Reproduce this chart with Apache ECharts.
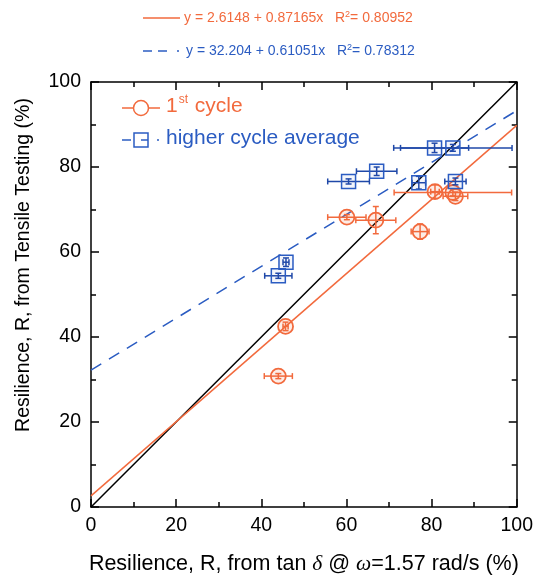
<!DOCTYPE html>
<html>
<head>
<meta charset="utf-8">
<script src="https://cdn.jsdelivr.net/npm/echarts@6/dist/echarts.min.js"></script>
<style>
  html, body { margin: 0; padding: 0; background: #fff; }
  #main { width: 536px; height: 580px; }
</style>
</head>
<body>
<div id="main"></div>
<script>
// 1st cycle: x, y, x error, y error
var cycle1X    = [44.0, 45.7, 60.1, 66.9, 77.3, 80.8, 85.0, 85.6];
var cycle1Y    = [30.8, 42.5, 68.2, 67.5, 64.8, 74.2, 74.0, 73.1];
var cycle1Xerr = [3.3, 0.6, 4.5, 4.7, 2.1, 1.0, 13.8, 2.9];
var cycle1Yerr = [0.6, 1.0, 0.6, 3.2, 1.8, 1.6, 0.8, 1.0];

// higher cycle average
var higherX    = [44.0, 45.8, 60.5, 67.1, 77.0, 85.6, 80.7, 85.0];
var higherY    = [54.4, 57.6, 76.6, 79.0, 76.3, 76.6, 84.5, 84.5];
var higherXerr = [3.2, 0.7, 4.9, 4.75, 1.6, 2.5, 8.0, 13.9];
var higherYerr = [0.6, 1.0, 0.6, 1.0, 1.5, 0.8, 1.1, 0.8];

// fit lines and y = x reference
var fitX      = [0, 100];
var fitOrange = [2.61, 89.78];
var fitBlue   = [32.20, 93.26];
var refY      = [0, 100];

var ORANGE = '#f26a3d';
var BLUE = '#2b5cc2';
var BLUE_DARK = '#1f48a8';

function pack(xs, ys, xe, ye) {
    return xs.map(function (x, i) { return [x, ys[i], xe[i], ye[i]]; });
}
function pairs(xs, ys) {
    return xs.map(function (x, i) { return [x, ys[i]]; });
}

function errItem(kind, color, barColor) {
    return function (params, api) {
        var x = api.value(0), y = api.value(1), xe = api.value(2), ye = api.value(3);
        var c = api.coord([x, y]);
        var l = api.coord([x - xe, y]), r = api.coord([x + xe, y]);
        var t = api.coord([x, y + ye]), b = api.coord([x, y - ye]);
        var cap = 3;
        var st = { stroke: barColor, lineWidth: 1.5 };
        var kids = [
            { type: 'line', shape: { x1: l[0], y1: c[1], x2: r[0], y2: c[1] }, style: st },
            { type: 'line', shape: { x1: l[0], y1: c[1] - cap, x2: l[0], y2: c[1] + cap }, style: st },
            { type: 'line', shape: { x1: r[0], y1: c[1] - cap, x2: r[0], y2: c[1] + cap }, style: st },
            { type: 'line', shape: { x1: c[0], y1: t[1], x2: c[0], y2: b[1] }, style: st },
            { type: 'line', shape: { x1: c[0] - cap, y1: t[1], x2: c[0] + cap, y2: t[1] }, style: st },
            { type: 'line', shape: { x1: c[0] - cap, y1: b[1], x2: c[0] + cap, y2: b[1] }, style: st }
        ];
        if (kind === 'circle') {
            kids.push({ type: 'circle', shape: { cx: c[0], cy: c[1], r: 7.5 },
                style: { fill: 'rgba(242,106,61,0.12)', stroke: color, lineWidth: 1.8 } });
        } else {
            kids.push({ type: 'rect', shape: { x: c[0] - 7, y: c[1] - 7, width: 14, height: 14 },
                style: { fill: 'rgba(43,92,194,0.06)', stroke: color, lineWidth: 1.5 } });
        }
        return { type: 'group', children: kids };
    };
}

var myChart = echarts.init(document.getElementById('main'));

var axisCommon = {
    type: 'value',
    min: 0,
    max: 100,
    interval: 20,
    axisLine: { show: true, onZero: false, lineStyle: { color: '#000', width: 1.5 } },
    axisTick: { show: true, inside: true, length: 8, lineStyle: { color: '#000', width: 1.5 } },
    minorTick: { show: true, splitNumber: 2, length: 5, lineStyle: { color: '#000', width: 1.5 } },
    splitLine: { show: false }
};

var option = {
    backgroundColor: '#fff',
    animation: false,
    grid: { left: 91, right: 18, top: 82, bottom: 70 },
    xAxis: [
        Object.assign({}, axisCommon, {
            position: 'bottom',
            axisLabel: { color: '#000', fontSize: 19.5, fontFamily: 'Liberation Sans', margin: 9 },
            name: 'Resilience, R, from tan {i|δ} @ {i|ω}=1.57 rad/s (%)',
            nameLocation: 'middle',
            nameGap: 46,
            nameTextStyle: {
                color: '#000', fontSize: 21.5, fontFamily: 'Liberation Sans',
                rich: { i: { fontStyle: 'italic', fontSize: 21.5, fontFamily: 'Liberation Serif', color: '#000' } }
            }
        }),
        Object.assign({}, axisCommon, { position: 'top', axisLabel: { show: false } })
    ],
    yAxis: [
        Object.assign({}, axisCommon, {
            position: 'left',
            axisLabel: { color: '#000', fontSize: 19.5, fontFamily: 'Liberation Sans', margin: 10 }
        }),
        Object.assign({}, axisCommon, { position: 'right', axisLabel: { show: false } })
    ],
    graphic: [
        // y axis title
        { type: 'text', x: 24, y: 265, rotation: Math.PI / 2, style: {
            text: 'Resilience, R, from Tensile Testing (%)',
            fill: '#000', font: '19.5px "Liberation Sans"', align: 'center', verticalAlign: 'middle'
        } },
        // top fit legend
        { type: 'line', shape: { x1: 143, y1: 18, x2: 180, y2: 18 }, style: { stroke: ORANGE, lineWidth: 1.5 } },
        { type: 'text', left: 184, top: 10, style: {
            text: 'y = 2.6148 + 0.87165x   R{s|2}= 0.80952',
            fill: ORANGE, font: '14px "Liberation Sans"',
            rich: { s: { fontSize: 9, verticalAlign: 'top', fill: ORANGE, padding: [0, 0, 8, 0] } }
        } },
        { type: 'line', shape: { x1: 143, y1: 51, x2: 152, y2: 51 }, style: { stroke: BLUE, lineWidth: 1.5 } },
        { type: 'line', shape: { x1: 158, y1: 51, x2: 167, y2: 51 }, style: { stroke: BLUE, lineWidth: 1.5 } },
        { type: 'line', shape: { x1: 177, y1: 51, x2: 179, y2: 51 }, style: { stroke: BLUE, lineWidth: 1.5 } },
        { type: 'text', left: 186, top: 43, style: {
            text: 'y = 32.204 + 0.61051x   R{s|2}= 0.78312',
            fill: BLUE, font: '14px "Liberation Sans"',
            rich: { s: { fontSize: 9, verticalAlign: 'top', fill: BLUE, padding: [0, 0, 8, 0] } }
        } },
        // in-plot legend
        { type: 'line', shape: { x1: 122, y1: 108, x2: 160, y2: 108 }, style: { stroke: ORANGE, lineWidth: 1.5 } },
        { type: 'circle', shape: { cx: 141, cy: 108, r: 7.5 }, style: { fill: '#fff', stroke: ORANGE, lineWidth: 1.5 } },
        { type: 'text', left: 166, top: 94, style: {
            text: '1{s|st} cycle', fill: ORANGE, font: '21px "Liberation Sans"',
            rich: { s: { fontSize: 12, fill: ORANGE, verticalAlign: 'top', padding: [0, 1, 12, 1] } }
        } },
        { type: 'line', shape: { x1: 122, y1: 140, x2: 131, y2: 140 }, style: { stroke: BLUE, lineWidth: 1.5 } },
        { type: 'rect', shape: { x: 134, y: 133, width: 14, height: 14 }, style: { fill: '#fff', stroke: BLUE, lineWidth: 1.5 } },
        { type: 'line', shape: { x1: 141, y1: 140, x2: 148, y2: 140 }, style: { stroke: BLUE, lineWidth: 1.5 } },
        { type: 'line', shape: { x1: 157, y1: 140, x2: 159, y2: 140 }, style: { stroke: BLUE, lineWidth: 1.5 } },
        { type: 'text', left: 166, top: 128, style: {
            text: 'higher cycle average', fill: BLUE, font: '21px "Liberation Sans"'
        } }
    ],
    series: [
        {
            name: 'y = x', type: 'line', data: pairs(fitX, refY), showSymbol: false,
            lineStyle: { color: '#000', width: 1.5 }, z: 3
        },
        {
            name: 'fit 1st', type: 'line', data: pairs(fitX, fitOrange), showSymbol: false,
            lineStyle: { color: ORANGE, width: 1.5 }, z: 3
        },
        {
            name: 'fit higher', type: 'line', data: pairs(fitX, fitBlue), showSymbol: false,
            lineStyle: { color: BLUE, width: 1.5, type: [12, 9] }, z: 3
        },
        {
            name: '1st cycle', type: 'custom', data: pack(cycle1X, cycle1Y, cycle1Xerr, cycle1Yerr),
            renderItem: errItem('circle', ORANGE, ORANGE), z: 4
        },
        {
            name: 'higher cycle average', type: 'custom', data: pack(higherX, higherY, higherXerr, higherYerr),
            renderItem: errItem('rect', BLUE, BLUE_DARK), z: 5
        }
    ]
};

myChart.setOption(option);
</script>
</body>
</html>
